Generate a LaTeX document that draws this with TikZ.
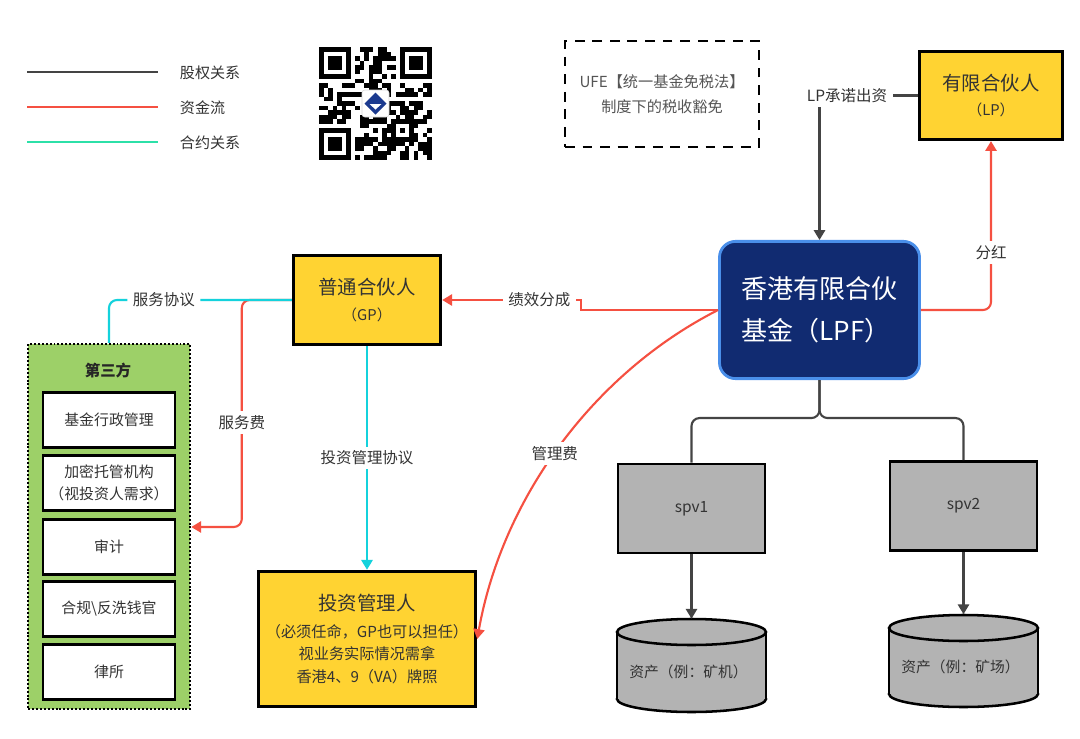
\documentclass[tikz,border=0pt]{standalone}
\usepackage{fontspec}
\setmainfont{Noto Sans CJK SC}
\usetikzlibrary{arrows.meta,positioning,calc}
\definecolor{fundnavy}{HTML}{112B71}
\definecolor{fundblue}{HTML}{4A8FEA}
\definecolor{gpyellow}{HTML}{FFD332}
\definecolor{tpgreen}{HTML}{9DD068}
\definecolor{spvgray}{HTML}{B3B3B3}
\definecolor{cashred}{HTML}{F55041}
\definecolor{dealcyan}{HTML}{14D2DC}
\definecolor{legteal}{HTML}{2CE0A8}
\definecolor{eqgray}{HTML}{444444}
\definecolor{txtgray}{HTML}{333333}
\definecolor{txtmid}{HTML}{555555}
\definecolor{logoblue}{HTML}{1B3A8F}

\begin{document}
\begin{tikzpicture}[x=0.025cm,y=-0.025cm,>={Triangle[length=7pt,width=8pt]},
  ybox/.style={draw=black,line width=2pt,fill=gpyellow,align=center,text=txtgray,inner sep=0pt},
  wbox/.style={draw=black,line width=2pt,fill=white,minimum width=3.3cm,minimum height=1.38cm,
    align=center,text=txtgray,font=\fontsize{10.6}{15.6}\selectfont},
  spvbox/.style={draw=black,line width=1.8pt,fill=spvgray,minimum width=3.68cm,minimum height=2.23cm,
    text=txtgray,font=\fontsize{11}{13}\selectfont},
  lbl/.style={fill=white,text=txtgray,font=\fontsize{11}{13}\selectfont,inner xsep=4pt,inner ysep=3pt},
  eq/.style={eqgray,line width=1.5pt},
  cash/.style={cashred,line width=1.5pt},
  deal/.style={dealcyan,line width=1.5pt}]
  \fill[white] (0,0) rectangle (1080,738);
  \useasboundingbox (0,0) rectangle (1080,738);

  % legend
  \foreach \yy/\cc/\lab [count=\k] in {72/eqgray/股权关系,107/cashred/资金流,142/legteal/合约关系}{
    \coordinate (leg\k) at (27,\yy);
    \node[anchor=west,text=txtgray,font=\fontsize{10.7}{13}\selectfont] (legtxt\k) at (175,\yy+1) {\lab};
    \draw[\cc,line width=1.6pt] (leg\k) -- ++(131,0);
  }

  % qr code
  \pgfmathsetseed{17}
  \foreach \i in {0,...,24}{
    \foreach \j in {0,...,24}{
      \pgfmathtruncatemacro{\qrbit}{(((\i<8) && (\j<8)) || ((\i>16) && (\j<8)) || ((\i<8) && (\j>16))
        || ((\i>9) && (\i<15) && (\j>9) && (\j<15)) || ((\i>15) && (\i<21) && (\j>15) && (\j<21))) ? 0 : (rnd<0.55 ? 1 : 0)}
      \ifnum\qrbit=1 \fill (319+4.5*\i,47+4.5*\j) rectangle ++(4.6,4.6);\fi
    }
  }
  \foreach \fx/\fy in {0/0,18/0,0/18}{
    \fill (319+4.5*\fx,47+4.5*\fy) rectangle ++(31.5,31.5);
    \fill[white] (323.5+4.5*\fx,51.5+4.5*\fy) rectangle ++(22.5,22.5);
    \fill (328+4.5*\fx,56+4.5*\fy) rectangle ++(13.5,13.5);
  }
  \fill (391,119) rectangle ++(22.5,22.5);
  \fill[white] (395.5,123.5) rectangle ++(13.5,13.5);
  \fill (400,128) rectangle ++(4.5,4.5);
  \filldraw[fill=white,draw=black!15,rounded corners=2pt] (362,90) rectangle (389,117);
  \fill[logoblue] (375.5,92.5) -- (386.5,103.5) -- (375.5,114.5) -- (364.5,103.5) -- cycle;
  \fill[white] (369.5,104) -- (381.5,104) -- (375.5,109.5) -- cycle;

  % tax box
  \node[draw=black,line width=2pt,dash pattern=on 7pt off 5.5pt,minimum width=4.85cm,minimum height=2.65cm,
    align=center,text=txtmid,font=\fontsize{10.8}{17.7}\selectfont] (ufe) at (662,94)
    {UFE【统一基金免税法】\\制度下的税收豁免};

  % main entities
  \node[ybox,minimum width=3.59cm,minimum height=2.21cm,font=\fontsize{13.8}{17.8}\selectfont] (lp) at (991,95.5)
    {有限合伙人\\{\fontsize{10.5}{13}\selectfont （LP）}};
  \node[ybox,minimum width=3.69cm,minimum height=2.24cm,font=\fontsize{13.8}{18.5}\selectfont] (gp) at (367,300)
    {普通合伙人\\{\fontsize{10.5}{13}\selectfont （GP）}};
  \node[draw=fundblue,line width=2pt,fill=fundnavy,rounded corners=0.4cm,minimum width=5cm,minimum height=3.43cm,
    text=white,align=left,font=\fontsize{18.5}{30}\selectfont] (lpf) at (819.5,310) {香港有限合伙\\基金（LPF）};
  \node[ybox,minimum width=5.44cm,minimum height=3.39cm,font=\fontsize{10.8}{16}\selectfont] (im) at (367,639)
    {{\fontsize{13.8}{16}\selectfont 投资管理人}\\[3pt]（必须任命，GP也可以担任）\\视业务实际情况需拿\\香港4、9（VA）牌照};

  % third parties
  \node[draw=black,line width=1.8pt,dash pattern=on 1.4pt off 1.4pt,fill=tpgreen,minimum width=4.05cm,
    minimum height=9.12cm] (tpbox) at (109,526.5) {};
  \node[text=black!85,font=\bfseries\fontsize{11}{13}\selectfont] (tptitle) at (108,371) {第三方};
  \foreach \yy/\lab [count=\k] in {420/基金行政管理,483/{加密托管机构\\（视投资人需求）},547/审计,
      609/合规\textbackslash 反洗钱官,672/律所}
    \node[wbox] (svc\k) at (109,\yy) {\lab};

  % spvs and assets
  \node[spvbox] (spv1) at (691.5,508.5) {spv1};
  \node[spvbox] (spv2) at (963.5,506) {spv2};
  \foreach \cx/\yt/\yb/\nm/\lab in {691.5/632/699/asset1/资产（例：矿机）,963.5/628/694/asset2/资产（例：矿场）}{
    \filldraw[fill=spvgray,draw=black,line width=1.8pt] (\cx,\yb) ellipse (74.5 and 13);
    \fill[spvgray] (\cx-74.5,\yt) rectangle (\cx+74.5,\yb);
    \draw[line width=1.8pt] (\cx-74.5,\yt) -- (\cx-74.5,\yb) (\cx+74.5,\yt) -- (\cx+74.5,\yb);
    \filldraw[fill=spvgray,draw=black,line width=1.8pt] (\cx,\yt) ellipse (74.5 and 13);
    \node[minimum width=3.73cm,minimum height=2.325cm,inner sep=0pt] (\nm) at (\cx,\yt/2+\yb/2) {};
    \node[text=txtgray,font=\fontsize{10.5}{13}\selectfont] (\nm txt) at (\cx-3,\yb-27) {\lab};
  }

  % equity lines
  \draw[eq,->] (lp.west) -| (lpf.north) node[lbl,pos=0.36] (capcommit) {LP承诺出资};
  \draw[eq,rounded corners=0.2cm] (lpf.south) -- ++(0,38) -| (spv1.north);
  \draw[eq,rounded corners=0.2cm] (lpf.south) -- ++(0,38) -| (spv2.north);
  \draw[eq,->] (spv1) -- (asset1);
  \draw[eq,->] (spv2) -- (asset2);

  % cash flows
  \draw[cash,->,rounded corners=0.2cm] (lpf.east) -| (lp.south) node[lbl,pos=0.67] (capdiv) {分红};
  \draw[cash,->] (lpf.west) -- ++(-137,0) |- (gp.east) node[lbl,pos=0.65] (capcarry) {绩效分成};
  \draw[cash,->,rounded corners=0.2cm] (gp.west) -| ++(-50,227) node[lbl,pos=0.77] (capfee) {服务费}
    -- (tpbox.east |- 0,527);
  \draw[cash,->] (lpf.west) .. controls (592,374) and (502,500) .. (im.east)
    node[lbl,pos=0.52] (capmgmt) {管理费};

  % contracts
  \draw[deal,rounded corners=0.2cm] (gp.west) -| (tpbox.north) node[lbl,pos=0.35] (capsvc) {服务协议};
  \draw[deal,->] (gp.south) -- (im.north) node[lbl,midway] (capima) {投资管理协议};
\end{tikzpicture}
\end{document}
